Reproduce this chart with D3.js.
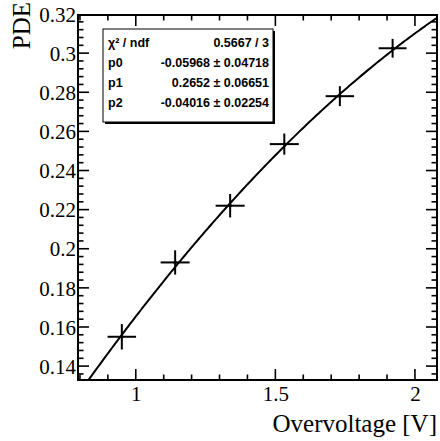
<!DOCTYPE html>
<html><head><meta charset="utf-8">
<script src="https://cdn.jsdelivr.net/npm/d3@7"></script>
</head><body style="margin:0">
<script>
// data
const xVals = [0.950, 1.141, 1.338, 1.532, 1.731, 1.920];
const yVals = [0.155, 0.193, 0.222, 0.2535, 0.278, 0.3025];
const xErr = [0.051, 0.052, 0.052, 0.052, 0.051, 0.050];
const yErr = [0.0065, 0.0062, 0.0060, 0.0054, 0.0051, 0.0048];
const fitPars = [-0.05968, 0.2652, -0.04016];
const statLabels = ["χ² / ndf", "p0", "p1", "p2"];
const statValues = ["0.5667 / 3", "-0.05968 ± 0.04718", "0.2652 ± 0.06651", "-0.04016 ± 0.02254"];
const xMajor = [1, 1.5, 2];
const xMajorLabels = ["1", "1.5", "2"];
const yMajor = [0.14, 0.16, 0.18, 0.2, 0.22, 0.24, 0.26, 0.28, 0.3, 0.32];
const yMajorLabels = ["0.14", "0.16", "0.18", "0.2", "0.22", "0.24", "0.26", "0.28", "0.3", "0.32"];
const xTitle = "Overvoltage [V]";
const yTitle = "PDE";

(function () {
  const width = 440, height = 441;
  const pl = 78, pr = 437, pt = 15, pb = 380;
  const xs = d3.scaleLinear().domain([0.793, 2.079]).range([pl, pr]);
  const ys = d3.scaleLinear().domain([0.1329, 0.3195]).range([pb, pt]);

  const svg = d3.select("body").append("svg").attr("width", width).attr("height", height)
    .attr("font-family", "Liberation Serif").style("display", "block");

  const xMinor = d3.range(8, 21).map(i => i / 10).filter(v => v >= xs.domain()[0] && v <= xs.domain()[1]);
  const yMinor = d3.range(34, 80).map(i => i * 0.004).filter(v => v >= ys.domain()[0] && v <= ys.domain()[1]);
  const isMajor = (v, arr) => arr.some(m => Math.abs(m - v) < 1e-6);

  svg.append("clipPath").attr("id", "plotclip").append("rect")
    .attr("x", pl).attr("y", pt).attr("width", pr - pl).attr("height", pb - pt);

  const tk = svg.append("g").attr("stroke", "#000").attr("stroke-width", 1.6);
  xMinor.forEach(v => {
    const len = isMajor(v, xMajor) ? 11 : 5.5;
    tk.append("line").attr("x1", xs(v)).attr("x2", xs(v)).attr("y1", pb).attr("y2", pb - len);
    tk.append("line").attr("x1", xs(v)).attr("x2", xs(v)).attr("y1", pt).attr("y2", pt + len);
  });
  yMinor.forEach(v => {
    const len = isMajor(v, yMajor) ? 11 : 5.5;
    tk.append("line").attr("y1", ys(v)).attr("y2", ys(v)).attr("x1", pl).attr("x2", pl + len);
    tk.append("line").attr("y1", ys(v)).attr("y2", ys(v)).attr("x1", pr).attr("x2", pr - len);
  });

  const gx = svg.append("g").attr("transform", `translate(0,${pb + 6})`)
    .call(d3.axisBottom(xs).tickValues(xMajor).tickFormat((d, i) => xMajorLabels[i]).tickSize(0).tickPadding(0));
  gx.attr("font-family", "Liberation Serif").attr("font-size", 21);
  gx.select(".domain").remove();
  gx.selectAll("text").attr("font-family", "Liberation Serif").attr("font-size", 21).attr("fill", "#000").attr("dy", "0.71em");

  const gy = svg.append("g").attr("transform", `translate(${pl - 2},0)`)
    .call(d3.axisLeft(ys).tickValues(yMajor).tickFormat((d, i) => yMajorLabels[i]).tickSize(0).tickPadding(0));
  gy.attr("font-family", "Liberation Serif").attr("font-size", 21);
  gy.select(".domain").remove();
  gy.selectAll("text").attr("font-family", "Liberation Serif").attr("font-size", 21).attr("fill", "#000").attr("dy", "0.34em");

  svg.append("rect").attr("x", pl).attr("y", pt).attr("width", pr - pl).attr("height", pb - pt)
    .attr("fill", "none").attr("stroke", "#000").attr("stroke-width", 2);

  const fit = v => fitPars[0] + fitPars[1] * v + fitPars[2] * v * v;
  const samples = d3.range(0, 201).map(i => xs.domain()[0] + (xs.domain()[1] - xs.domain()[0]) * i / 200);
  svg.append("path").attr("clip-path", "url(#plotclip)")
    .attr("d", d3.line().x(v => xs(v)).y(v => ys(fit(v)))(samples))
    .attr("fill", "none").attr("stroke", "#000").attr("stroke-width", 2);

  const pg = svg.append("g").attr("stroke", "#000").attr("stroke-width", 2);
  xVals.forEach((xv, i) => {
    pg.append("line").attr("x1", xs(xv - xErr[i])).attr("x2", xs(xv + xErr[i])).attr("y1", ys(yVals[i])).attr("y2", ys(yVals[i]));
    pg.append("line").attr("x1", xs(xv)).attr("x2", xs(xv)).attr("y1", ys(yVals[i] - yErr[i])).attr("y2", ys(yVals[i] + yErr[i]));
    svg.append("circle").attr("cx", xs(xv)).attr("cy", ys(yVals[i])).attr("r", 1.8).attr("fill", "#000");
  });

  const bx = 103, by = 29, bw = 170, bh = 93;
  svg.append("rect").attr("x", bx + 2).attr("y", by + 2).attr("width", bw).attr("height", bh).attr("fill", "#000");
  svg.append("rect").attr("x", bx).attr("y", by).attr("width", bw).attr("height", bh).attr("fill", "#fff").attr("stroke", "#000").attr("stroke-width", 1);
  statLabels.forEach((s, i) => {
    const ty = by + 17.5 + i * 20.2;
    svg.append("text").attr("x", bx + 5).attr("y", ty).text(s)
      .attr("font-family", "Liberation Sans").attr("font-weight", "bold").attr("font-size", 12.5);
    svg.append("text").attr("x", bx + bw - 4).attr("y", ty).attr("text-anchor", "end").text(statValues[i])
      .attr("font-family", "Liberation Sans").attr("font-weight", "bold").attr("font-size", 12.5);
  });

  svg.append("text").attr("x", pr).attr("y", 432).attr("text-anchor", "end").text(xTitle)
    .attr("font-family", "Liberation Serif").attr("font-size", 25);
  svg.append("text").attr("transform", "translate(30,2) rotate(-90)").attr("text-anchor", "end").text(yTitle)
    .attr("font-family", "Liberation Serif").attr("font-size", 25);
})();
</script>
</body></html>
